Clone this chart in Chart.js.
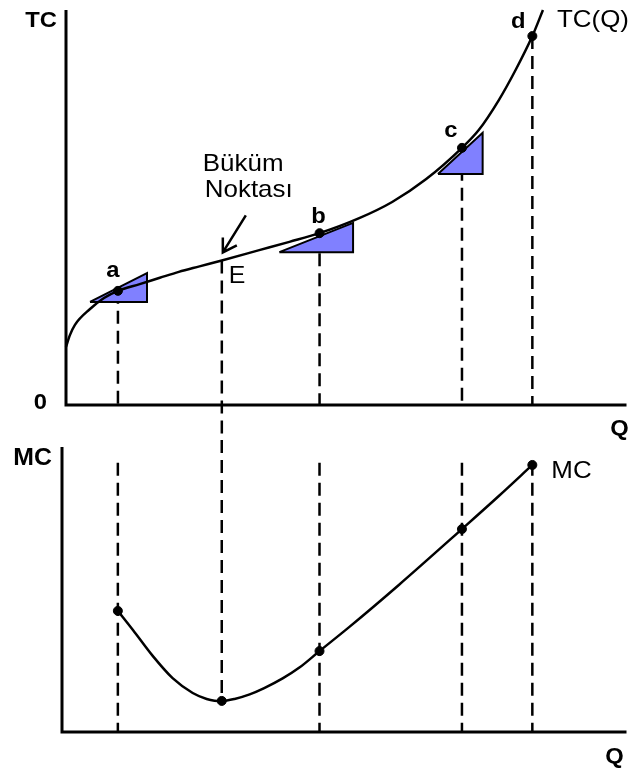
<!DOCTYPE html>
<html>
<head>
<meta charset="utf-8">
<script src="https://cdn.jsdelivr.net/npm/chart.js@4.4.1/dist/chart.umd.min.js"></script>
<style>
  html, body { margin: 0; padding: 0; background: #fff; }
  canvas { display: block; }
</style>
</head>
<body>
<canvas id="tcChart" width="630" height="440"></canvas>
<canvas id="mcChart" width="630" height="329"></canvas>
<script>
// отмеченные точки a, E, b, c, d
const pointNames = ['a', 'E', 'b', 'c', 'd'];
const pointQ = [9.3, 27.9, 45.4, 70.9, 83.5];
const pointTC = [28.9, 36.6, 43.5, 65.1, 93.4];
const pointMC = [42.5, 10.9, 28.4, 71.2, 93.7];

// кривая TC(Q)
const tcQ = [0, 0.7, 1.6, 4.3, 6.8, 9.3, 13.2, 16.8, 20.2, 23.9, 27.9, 34.6, 40.0, 45.4, 52.5, 58.4, 64.5, 70.9, 73.9, 77.5, 80.5, 83.5, 85.4];
const tcVal = [14.7, 17.7, 20.3, 24.3, 27.1, 28.9, 30.6, 32.2, 33.7, 35.1, 36.6, 39.2, 41.3, 43.5, 47.3, 51.4, 57.2, 65.1, 69.6, 77.2, 84.8, 93.4, 100];

// кривая MC
const mcQ = [9.3, 12.0, 15.5, 19.1, 22.7, 25.2, 26.6, 27.9, 30.2, 32.9, 35.5, 38.8, 41.8, 45.4, 50.7, 59.6, 70.9, 77.5, 83.5];
const mcVal = [42.5, 35.8, 26.8, 18.9, 13.7, 11.6, 11.0, 10.9, 11.6, 13.2, 15.4, 18.8, 22.6, 28.4, 36.8, 51.6, 71.2, 82.8, 93.7];

// треугольники наклона у a, b, c: [Q слева, Q справа], [TC низ, TC верх]
const triQ = [[4.3, 14.5], [38.2, 51.4], [66.6, 74.6]];
const triTC = [[26.1, 33.4], [38.7, 46.1], [58.5, 68.9]];

const guideTopMC = 94.5; // где начинаются пунктиры на нижнем графике

const FONT = '"Liberation Sans", Arial, sans-serif';
const BLUE = 'rgb(128,128,255)';
const STRETCH = 1.08; // шрифт в оригинале чуть шире

const xy = (qs, vs) => qs.map((q, i) => ({ x: q, y: vs[i] }));

const dashed = (ctx, x, y1, y2) => {
  ctx.save();
  ctx.strokeStyle = '#000';
  ctx.lineWidth = 2.5;
  ctx.setLineDash([13, 7]);
  ctx.beginPath();
  ctx.moveTo(x, y1);
  ctx.lineTo(x, y2);
  ctx.stroke();
  ctx.restore();
};

const drawAxes = (chart) => {
  const { ctx, chartArea: ca } = chart;
  ctx.save();
  ctx.strokeStyle = '#000';
  ctx.lineWidth = 3;
  ctx.beginPath();
  ctx.moveTo(ca.left, ca.top);
  ctx.lineTo(ca.left, ca.bottom);
  ctx.lineTo(ca.right + 2, ca.bottom);
  ctx.stroke();
  ctx.restore();
};

const text = (ctx, str, x, y, font, align) => {
  ctx.save();
  ctx.translate(x, y);
  ctx.scale(STRETCH, 1);
  ctx.font = font;
  ctx.textAlign = align || 'left';
  ctx.textBaseline = 'alphabetic';
  ctx.fillStyle = '#000';
  ctx.fillText(str, 0, 0);
  ctx.restore();
};

/** верхний график: пунктиры, оси, подписи */
const tcDecor = {
  id: 'tcDecor',
  beforeDatasetsDraw(chart) {
    const { ctx, scales: { x, y } } = chart;
    pointQ.forEach((q, i) => {
      const px = x.getPixelForValue(q);
      const py = y.getPixelForValue(pointTC[i]);
      const end = pointNames[i] === 'E' ? chart.height : y.getPixelForValue(0);
      dashed(ctx, px, py, end);
    });
  },
  afterDatasetsDraw(chart) {
    const { ctx, chartArea: ca, scales: { x, y } } = chart;
    drawAxes(chart);
    const bold = `bold 22px ${FONT}`;
    const reg = `24px ${FONT}`;
    text(ctx, 'TC', ca.left - 9, ca.top + 17, bold, 'right');
    text(ctx, '0', ca.left - 19, ca.bottom + 4, bold, 'right');
    text(ctx, 'Q', ca.right - 5, ca.bottom + 30, bold, 'center');

    const off = { a: [-5, -14], b: [-1, -10], c: [-11, -11], d: [-14, -8] };
    pointNames.forEach((n, i) => {
      const px = x.getPixelForValue(pointQ[i]);
      const py = y.getPixelForValue(pointTC[i]);
      if (n === 'E') {
        text(ctx, 'E', px + 7, py + 23, `23px ${FONT}`);
        // подпись «Büküm Noktası» со стрелкой
        text(ctx, 'Büküm', px - 19, py - 89, reg);
        text(ctx, 'Noktası', px - 17, py - 63, reg);
        ctx.save();
        ctx.strokeStyle = '#000';
        ctx.lineWidth = 2.5;
        ctx.beginPath();
        ctx.moveTo(px + 24, py - 45);
        ctx.lineTo(px + 1, py - 8);
        ctx.moveTo(px + 1, py - 23);
        ctx.lineTo(px + 1, py - 8);
        ctx.lineTo(px + 15, py - 15);
        ctx.stroke();
        ctx.restore();
      } else {
        text(ctx, n, px + off[n][0], py + off[n][1], bold, 'center');
      }
    });
    const last = tcQ.length - 1;
    text(ctx, 'TC(Q)', x.getPixelForValue(tcQ[last]) + 14, y.getPixelForValue(tcVal[last]) + 17, reg);
  },
};

/** нижний график: пунктиры, оси, подписи */
const mcDecor = {
  id: 'mcDecor',
  beforeDatasetsDraw(chart) {
    const { ctx, scales: { x, y } } = chart;
    pointQ.forEach((q, i) => {
      const px = x.getPixelForValue(q);
      if (pointNames[i] === 'E') {
        dashed(ctx, px, 0, y.getPixelForValue(pointMC[i]));
      } else {
        dashed(ctx, px, y.getPixelForValue(guideTopMC), y.getPixelForValue(0));
      }
    });
  },
  afterDatasetsDraw(chart) {
    const { ctx, chartArea: ca, scales: { x, y } } = chart;
    drawAxes(chart);
    text(ctx, 'MC', ca.left - 10, ca.top + 18, `bold 23px ${FONT}`, 'right');
    text(ctx, 'Q', ca.right - 10, ca.bottom + 31, `bold 22px ${FONT}`, 'center');
    const d = pointQ.length - 1;
    text(ctx, 'MC', x.getPixelForValue(pointQ[d]) + 19, y.getPixelForValue(pointMC[d]) + 13, `24px ${FONT}`);
  },
};

const baseOptions = (xMin, padding) => ({
  responsive: false,
  animation: false,
  events: [],
  layout: { padding },
  scales: {
    x: { type: 'linear', min: xMin, max: 100, display: false },
    y: { type: 'linear', min: 0, max: 100, display: false },
  },
  plugins: {
    legend: { display: false },
    tooltip: { enabled: false },
  },
});

const curveStyle = {
  showLine: true,
  borderColor: '#000',
  borderWidth: 2.5,
  pointRadius: 0,
  cubicInterpolationMode: 'monotone',
  clip: false,
};

const dotStyle = {
  pointRadius: 4.5,
  pointBackgroundColor: '#000',
  pointBorderColor: '#000',
  showLine: false,
};

const triangles = triQ.map((q, i) => ({
  data: [
    { x: q[0], y: triTC[i][0] },
    { x: q[1], y: triTC[i][0] },
    { x: q[1], y: triTC[i][1] },
    { x: q[0], y: triTC[i][0] },
  ],
  showLine: true,
  fill: 'shape',
  backgroundColor: BLUE,
  borderColor: '#000',
  borderWidth: 2,
  pointRadius: 0,
  tension: 0,
}));

// первый набор рисуется последним, поэтому точки и кривая идут раньше треугольников
const tcChart = new Chart(document.getElementById('tcChart'), {
  type: 'scatter',
  data: {
    datasets: [
      {
        data: xy(pointQ, pointTC).filter((p, i) => pointNames[i] !== 'E'),
        ...dotStyle,
      },
      { data: xy(tcQ, tcVal), ...curveStyle },
      ...triangles,
    ],
  },
  options: baseOptions(0, { left: 66, right: 4, top: 10, bottom: 35 }),
  plugins: [tcDecor],
});

const mcChart = new Chart(document.getElementById('mcChart'), {
  type: 'scatter',
  data: {
    datasets: [
      { data: xy(pointQ, pointMC), ...dotStyle },
      { data: xy(mcQ, mcVal), ...curveStyle },
    ],
  },
  options: baseOptions(-0.7, { left: 62, right: 4, top: 7, bottom: 37 }),
  plugins: [mcDecor],
});
</script>
</body>
</html>
